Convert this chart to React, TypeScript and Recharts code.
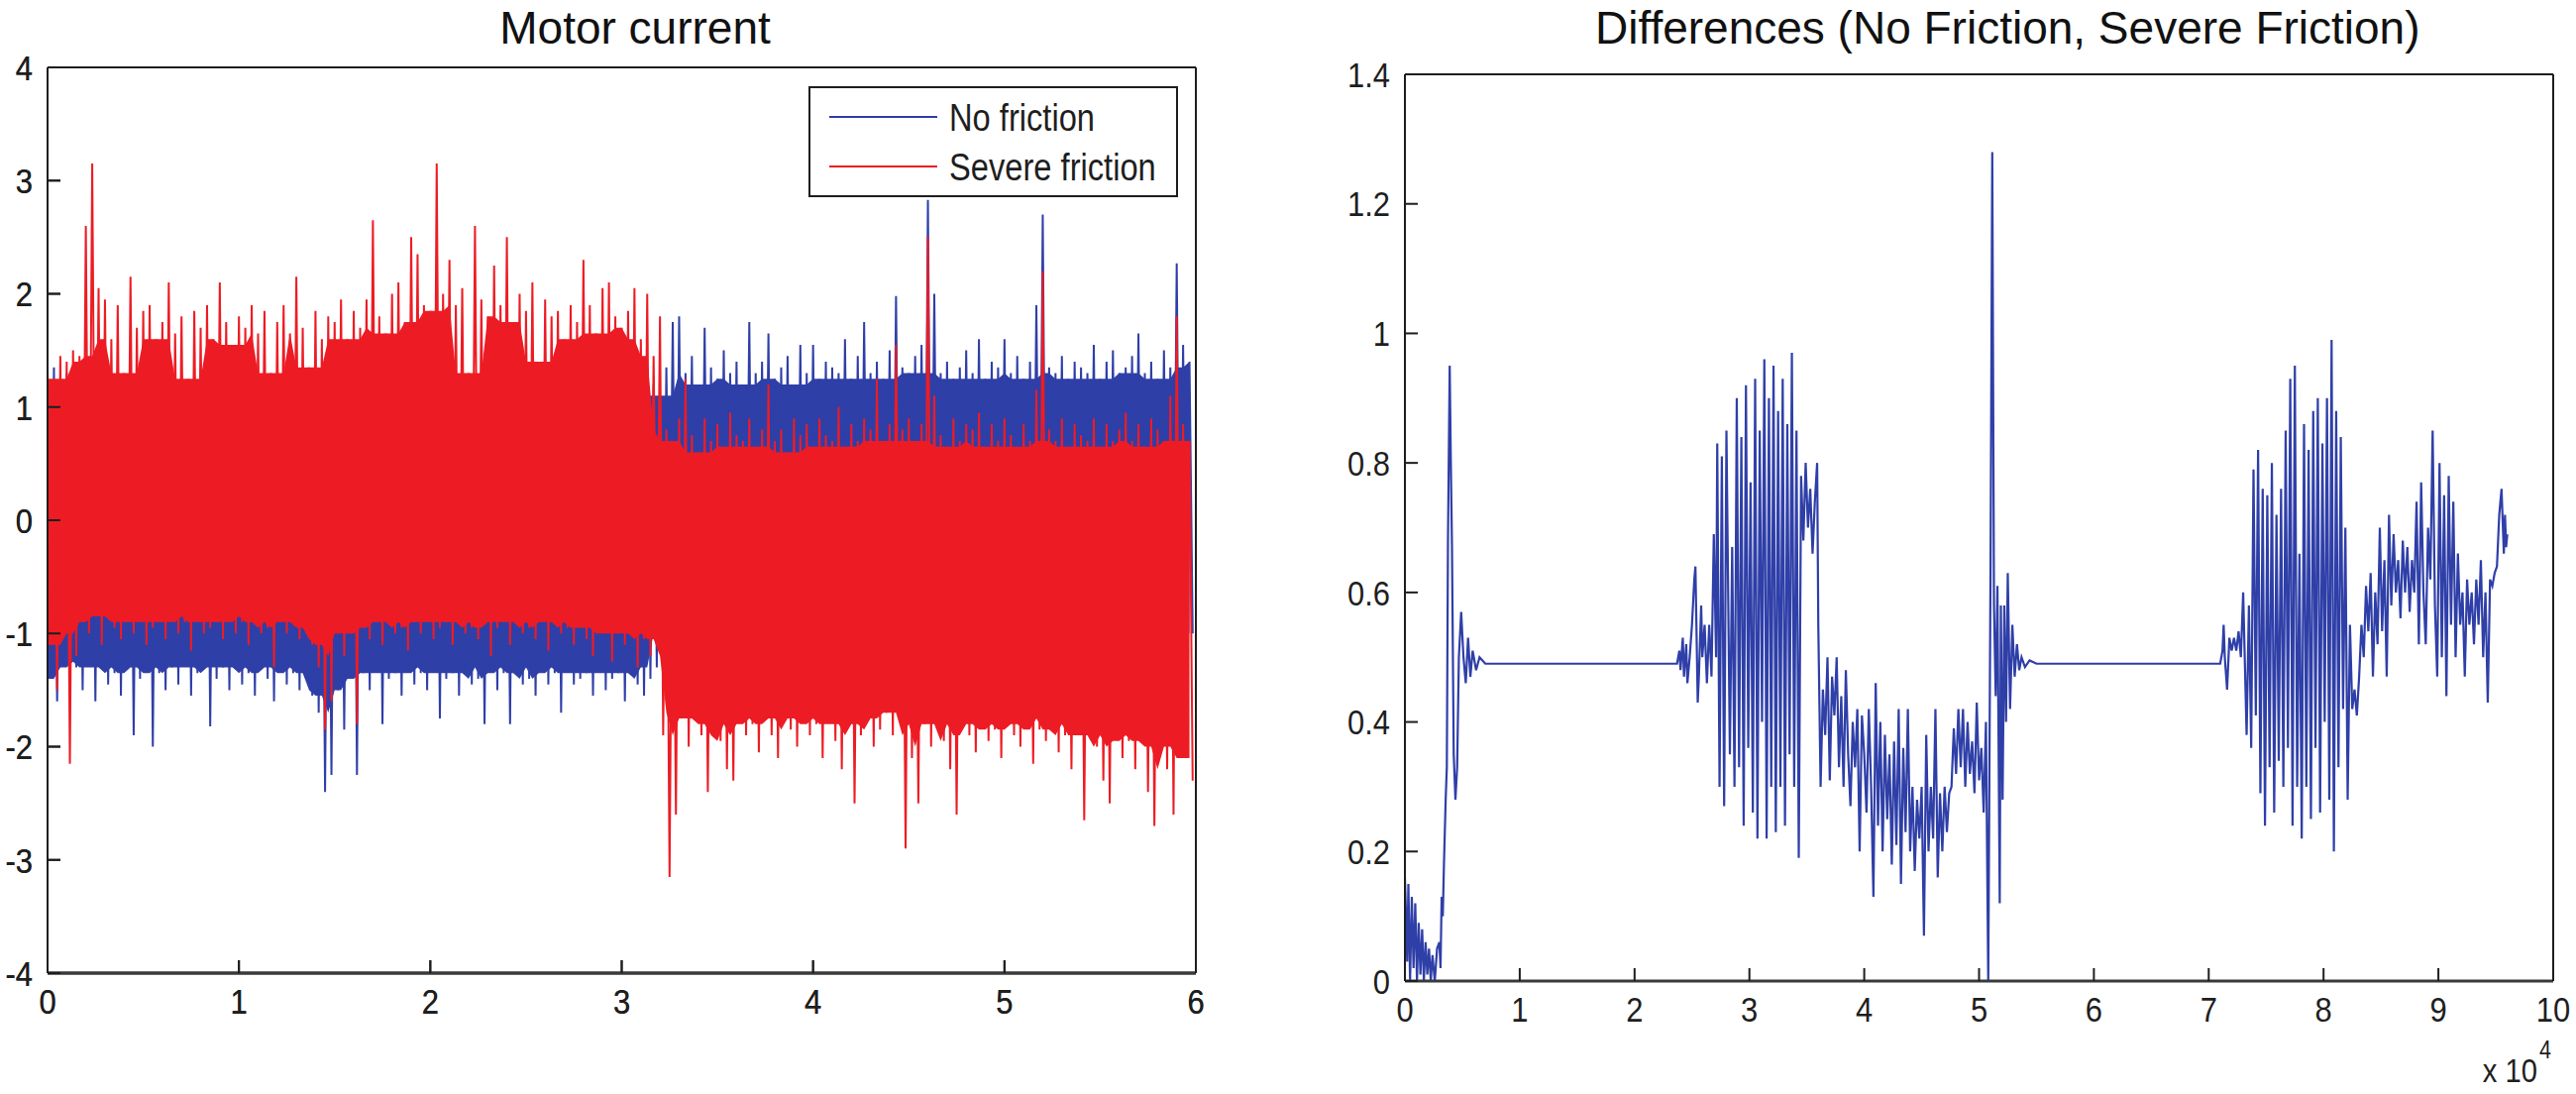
import { Area, ComposedChart, Line, XAxis, YAxis } from 'recharts'

const FONT = '"Liberation Sans", Arial, Helvetica, sans-serif'
const BLUE = '#2f3fa8'
const RED = '#ed1c24'
const INK = '#1e1e1e'
const TICK_FONT = 36
const SQUEEZE = 0.86
const TICK_LEN = 13

// left panel: samples per x unit, upper / lower swing of each oscillation
const SAMPLES_PER_UNIT = 30

const motorTicksX = [0, 1, 2, 3, 4, 5, 6]
const motorTicksY = [-4, -3, -2, -1, 0, 1, 2, 3, 4]
const diffTicksX = [0, 1, 2, 3, 4, 5, 6, 7, 8, 9, 10]
const diffTicksY = [0, 0.2, 0.4, 0.6, 0.8, 1, 1.2, 1.4]

const redUpper = [
	1.35, 1.25, 1.45, 1.4, 1.5, 1.45, 2.6, 3.15, 2.05, 1.95,
	1.6, 1.9, 1.3, 2.15, 1.7, 1.85, 1.9, 1.6, 1.75, 2.1,
	1.65, 1.8, 1.25, 1.85, 1.7, 1.9, 1.6, 2.1, 1.75, 1.55,
	1.8, 1.7, 1.9, 1.65, 1.85, 1.3, 1.75, 1.9, 1.65, 2.15,
	1.7, 1.35, 1.85, 1.6, 1.8, 1.75, 1.95, 1.6, 1.85, 1.7,
	1.95, 2.65, 1.8, 1.65, 2.0, 2.1, 1.75, 2.5, 2.35, 1.9,
	1.85, 3.15, 2.0, 2.3, 1.9, 2.05, 1.3, 2.6, 1.95, 1.8,
	2.25, 1.9, 2.5, 1.75, 2.0, 1.85, 2.1, 1.4, 1.95, 1.8,
	1.85, 1.6, 1.9, 1.75, 2.3, 1.9, 1.65, 2.05, 2.1, 1.8,
	1.7, 1.85, 2.05, 1.6, 2.0, 1.45, 1.8, 0.8, 0.7, 0.9,
	1.25, 0.75, 0.6, 0.9, 0.7, 0.85, 0.65, 0.95, 0.75, 0.7,
	0.9, 0.65, 0.8, 1.2, 0.7, 0.8, 0.6, 0.9, 0.75, 0.85,
	0.65, 0.9, 0.75, 0.7, 1.0, 0.65, 0.85, 0.7, 0.9, 0.8,
	1.25, 0.7, 0.85, 1.55, 0.8, 0.9, 0.7, 0.85, 2.5, 1.1,
	0.75, 0.65, 0.9, 0.7, 0.85, 0.8, 0.95, 0.65, 0.85, 0.7,
	0.9, 0.75, 0.65, 0.85, 0.7, 1.15, 2.2, 0.8, 0.7, 0.9,
	0.65, 0.85, 0.75, 0.7, 0.9, 0.65, 0.85, 0.7, 0.8, 0.95,
	0.7, 0.85, 0.65, 0.9, 0.8, 0.7, 1.1, 1.8, 0.85, 0.7,
]

const redLower = [
	-1.1, -1.5, -1.0, -2.15, -1.2, -0.9, -1.0, -0.8, -1.1, -0.85,
	-0.95, -1.05, -0.9, -1.0, -0.85, -1.1, -0.95, -0.9, -1.05, -0.85,
	-1.0, -0.9, -1.15, -0.85, -1.0, -0.95, -0.9, -1.05, -0.85, -1.0,
	-0.9, -1.1, -0.85, -1.0, -0.95, -1.3, -0.9, -1.0, -0.85, -1.05,
	-0.95, -1.1, -1.3, -1.85, -1.6, -1.0, -1.2, -1.0, -1.8, -0.95,
	-1.05, -0.9, -1.1, -0.85, -1.0, -0.95, -1.15, -0.9, -1.0, -0.85,
	-1.05, -0.95, -0.9, -1.1, -0.85, -1.0, -0.95, -1.05, -0.9, -1.2,
	-0.95, -0.85, -1.1, -0.9, -1.0, -0.95, -1.05, -0.9, -1.15, -0.85,
	-1.0, -0.95, -1.1, -0.9, -1.05, -1.2, -0.95, -1.0, -1.25, -1.0,
	-1.1, -0.95, -1.3, -1.05, -1.2, -1.0, -1.9, -3.15, -2.6, -1.7,
	-2.0, -1.75, -1.9, -2.4, -1.8, -1.95, -2.2, -2.3, -1.7, -1.9,
	-1.8, -2.05, -1.75, -1.9, -2.1, -1.7, -1.85, -2.0, -1.75, -1.9,
	-1.8, -2.1, -1.7, -1.95, -2.2, -1.8, -2.5, -1.9, -1.75, -2.0,
	-1.85, -1.7, -1.9, -0.85, -2.9, -2.1, -2.5, -1.8, -2.0, -1.75,
	-1.95, -2.2, -2.6, -1.8, -1.9, -2.05, -1.7, -1.95, -1.85, -2.1,
	-1.8, -1.9, -2.0, -1.75, -2.15, -1.85, -1.95, -1.7, -2.05, -1.9,
	-2.2, -1.8, -2.65, -1.9, -2.0, -2.3, -2.5, -1.85, -2.1, -1.95,
	-2.2, -1.9, -2.4, -2.7, -2.0, -2.2, -2.6, -1.9, -2.1, -2.3,
]

const blueUpper = [
	1.3, 1.35, 1.2, 1.3, 1.1, 1.25, 1.15, 1.3, 1.2, 1.1,
	1.15, 1.3, 1.05, 1.25, 1.2, 1.1, 1.3, 1.15, 1.25, 1.05,
	1.2, 1.3, 1.1, 1.25, 1.15, 1.3, 1.05, 1.2, 1.25, 1.1,
	1.3, 1.15, 1.2, 1.05, 1.25, 1.1, 1.3, 1.2, 1.15, 1.25,
	1.1, 1.2, 1.3, 1.05, 1.25, 1.15, 1.2, 1.1, 1.3, 1.2,
	1.15, 1.25, 1.1, 1.3, 1.2, 1.05, 1.25, 1.15, 1.2, 1.3,
	1.1, 1.25, 1.2, 1.15, 1.3, 1.05, 1.2, 1.25, 1.1, 1.2,
	1.3, 1.15, 1.25, 1.1, 1.2, 1.3, 1.05, 1.25, 1.15, 1.2,
	1.25, 1.1, 1.2, 1.3, 1.15, 1.25, 1.05, 1.2, 1.3, 1.1,
	1.2, 1.1, 1.25, 1.15, 1.3, 1.2, 1.1, 1.35, 1.75, 1.8,
	1.3, 1.45, 1.2, 1.7, 1.35, 1.25, 1.5, 1.3, 1.4, 1.2,
	1.75, 1.3, 1.4, 1.65, 1.25, 1.35, 1.45, 1.2, 1.55, 1.3,
	1.55, 1.25, 1.4, 1.35, 1.3, 1.6, 1.25, 1.45, 1.75, 1.3,
	1.4, 1.25, 1.5, 1.98, 1.35, 1.3, 1.45, 1.55, 2.83, 2.0,
	1.3, 1.4, 1.25, 1.35, 1.5, 1.3, 1.6, 1.25, 1.4, 1.35,
	1.6, 1.3, 1.45, 1.25, 1.4, 1.9, 2.7, 1.35, 1.3, 1.45,
	1.25, 1.4, 1.35, 1.3, 1.55, 1.25, 1.4, 1.5, 1.3, 1.35,
	1.45, 1.65, 1.3, 1.4, 1.25, 1.5, 1.35, 2.27, 1.55, 1.4,
]

const blueLower = [
	-1.4, -1.6, -1.2, -1.55, -1.3, -1.5, -1.25, -1.6, -1.3, -1.45,
	-1.35, -1.55, -1.3, -1.9, -1.4, -1.25, -2.0, -1.35, -1.5, -1.3,
	-1.45, -1.25, -1.55, -1.35, -1.3, -1.82, -1.4, -1.3, -1.5, -1.25,
	-1.45, -1.35, -1.55, -1.3, -1.4, -1.6, -1.3, -1.45, -1.35, -1.5,
	-1.3, -1.55, -1.7, -2.4, -2.25, -1.5, -1.85, -1.4, -2.25, -1.35,
	-1.5, -1.3, -1.8, -1.4, -1.35, -1.55, -1.3, -1.45, -1.35, -1.5,
	-1.3, -1.75, -1.4, -1.35, -1.55, -1.3, -1.45, -1.4, -1.8, -1.3,
	-1.5, -1.35, -1.8, -1.3, -1.45, -1.4, -1.55, -1.3, -1.45, -1.35,
	-1.7, -1.3, -1.45, -1.4, -1.35, -1.55, -1.3, -1.5, -1.4, -1.35,
	-1.6, -1.3, -1.45, -1.55, -1.4, -1.3, -1.0, -0.9, -1.05, -0.85,
	-0.95, -1.0, -0.9, -1.05, -0.85, -0.95, -1.0, -0.9, -1.1, -0.85,
	-1.0, -0.9, -0.95, -1.05, -0.85, -1.0, -0.9, -0.95, -1.1, -0.9,
	-0.85, -1.0, -0.95, -0.9, -1.05, -0.85, -1.0, -0.95, -0.9, -1.0,
	-0.95, -0.9, -1.0, -0.8, -1.05, -0.9, -0.95, -1.0, -0.85, -0.95,
	-1.0, -0.9, -1.05, -0.85, -0.95, -1.0, -0.9, -1.1, -0.85, -0.95,
	-0.9, -1.0, -0.95, -1.05, -0.85, -0.9, -1.0, -0.95, -0.9, -1.05,
	-0.85, -1.0, -0.95, -0.9, -1.05, -0.9, -1.0, -0.85, -0.95, -1.0,
	-0.9, -1.05, -0.95, -0.85, -1.0, -0.9, -0.95, -1.05, -0.9, -1.0,
]

// right panel: [time (x 10^4), difference]
const diffPoints: [number, number][] = [
	[0, 0.16], [0.02, 0.03], [0.03, 0.15], [0.045, 0], [0.06, 0.13], [0.075, 0.02],
	[0.09, 0.12], [0.105, 0], [0.12, 0.09], [0.135, 0.01], [0.15, 0.08], [0.165, 0],
	[0.18, 0.06], [0.195, 0.01], [0.21, 0.05], [0.225, 0], [0.24, 0.04], [0.26, 0],
	[0.28, 0.05], [0.3, 0.06], [0.31, 0.02], [0.32, 0.13], [0.33, 0.1], [0.34, 0.18],
	[0.355, 0.28], [0.365, 0.33], [0.375, 0.68], [0.39, 0.95], [0.4, 0.8], [0.41, 0.67],
	[0.425, 0.35], [0.44, 0.28], [0.455, 0.33], [0.47, 0.5], [0.49, 0.57], [0.51, 0.5],
	[0.53, 0.46], [0.55, 0.53], [0.57, 0.47], [0.59, 0.51], [0.62, 0.48], [0.65, 0.5],
	[0.7, 0.49],
	[2.37, 0.49], [2.39, 0.51], [2.4, 0.48], [2.42, 0.53], [2.43, 0.47], [2.45, 0.52],
	[2.46, 0.46], [2.48, 0.5], [2.5, 0.55], [2.52, 0.62], [2.53, 0.64], [2.55, 0.43],
	[2.56, 0.47], [2.58, 0.58], [2.59, 0.5], [2.61, 0.55], [2.63, 0.46], [2.65, 0.55],
	[2.67, 0.47], [2.69, 0.69], [2.71, 0.5], [2.72, 0.83], [2.74, 0.3], [2.76, 0.81],
	[2.78, 0.27], [2.8, 0.85], [2.83, 0.35], [2.85, 0.67], [2.87, 0.3], [2.89, 0.9],
	[2.91, 0.33], [2.93, 0.84], [2.95, 0.24], [2.97, 0.92], [2.99, 0.36], [3.01, 0.77],
	[3.03, 0.26], [3.05, 0.93], [3.07, 0.22], [3.09, 0.85], [3.11, 0.4], [3.13, 0.96],
	[3.15, 0.22], [3.17, 0.9], [3.19, 0.3], [3.21, 0.95], [3.23, 0.23], [3.25, 0.88],
	[3.27, 0.3], [3.29, 0.93], [3.31, 0.24], [3.33, 0.86], [3.35, 0.35], [3.37, 0.97],
	[3.39, 0.3], [3.41, 0.85], [3.43, 0.19], [3.45, 0.78], [3.47, 0.68], [3.49, 0.8],
	[3.51, 0.7], [3.53, 0.76], [3.55, 0.66], [3.57, 0.74], [3.59, 0.8], [3.6, 0.55],
	[3.62, 0.3], [3.64, 0.45], [3.66, 0.38], [3.68, 0.5], [3.7, 0.31], [3.72, 0.47],
	[3.74, 0.41], [3.76, 0.5], [3.78, 0.33], [3.8, 0.44], [3.82, 0.3], [3.84, 0.48],
	[3.86, 0.35], [3.88, 0.27], [3.9, 0.4], [3.92, 0.33], [3.94, 0.42], [3.96, 0.2],
	[3.98, 0.41], [4.0, 0.35], [4.02, 0.26], [4.04, 0.42], [4.06, 0.3], [4.08, 0.13],
	[4.1, 0.46], [4.12, 0.24], [4.14, 0.4], [4.16, 0.2], [4.18, 0.38], [4.2, 0.25],
	[4.22, 0.35], [4.24, 0.18], [4.26, 0.37], [4.28, 0.21], [4.3, 0.42], [4.32, 0.15],
	[4.34, 0.36], [4.36, 0.23], [4.38, 0.42], [4.4, 0.2], [4.42, 0.3], [4.44, 0.17],
	[4.46, 0.28], [4.48, 0.22], [4.5, 0.3], [4.52, 0.07], [4.54, 0.38], [4.56, 0.2],
	[4.58, 0.3], [4.6, 0.22], [4.62, 0.42], [4.64, 0.16], [4.66, 0.29], [4.68, 0.2],
	[4.7, 0.3], [4.72, 0.23], [4.74, 0.29], [4.76, 0.3], [4.78, 0.39], [4.8, 0.32],
	[4.82, 0.42], [4.84, 0.33], [4.86, 0.42], [4.88, 0.3], [4.9, 0.4], [4.92, 0.32],
	[4.94, 0.37], [4.96, 0.29], [4.98, 0.43], [5.0, 0.31], [5.02, 0.36], [5.04, 0.26],
	[5.06, 0.4], [5.08, 0], [5.1, 0.64], [5.115, 1.28], [5.13, 0.58], [5.145, 0.44],
	[5.16, 0.61], [5.18, 0.12], [5.19, 0.58], [5.205, 0.28], [5.22, 0.58], [5.235, 0.4],
	[5.25, 0.63], [5.27, 0.42], [5.29, 0.55], [5.31, 0.47], [5.33, 0.52], [5.35, 0.48],
	[5.37, 0.5], [5.4, 0.485], [5.44, 0.495], [5.5, 0.49],
	[7.1, 0.49], [7.12, 0.51], [7.13, 0.55], [7.14, 0.5], [7.16, 0.45], [7.18, 0.53],
	[7.2, 0.51], [7.22, 0.53], [7.24, 0.51], [7.26, 0.54], [7.28, 0.5], [7.3, 0.6],
	[7.33, 0.38], [7.35, 0.58], [7.37, 0.36], [7.39, 0.79], [7.41, 0.41], [7.43, 0.82],
	[7.45, 0.29], [7.47, 0.76], [7.49, 0.24], [7.51, 0.75], [7.53, 0.33], [7.55, 0.8],
	[7.57, 0.26], [7.59, 0.72], [7.61, 0.34], [7.63, 0.76], [7.65, 0.3], [7.67, 0.85],
	[7.69, 0.36], [7.71, 0.93], [7.73, 0.24], [7.75, 0.95], [7.77, 0.3], [7.79, 0.66],
	[7.81, 0.22], [7.83, 0.86], [7.85, 0.3], [7.87, 0.82], [7.89, 0.25], [7.91, 0.88],
	[7.93, 0.36], [7.95, 0.9], [7.97, 0.26], [7.99, 0.83], [8.01, 0.4], [8.03, 0.9],
	[8.05, 0.28], [8.07, 0.99], [8.09, 0.2], [8.11, 0.88], [8.13, 0.33], [8.15, 0.84],
	[8.17, 0.42], [8.19, 0.7], [8.21, 0.28], [8.23, 0.55], [8.25, 0.42], [8.27, 0.45],
	[8.29, 0.41], [8.31, 0.47], [8.33, 0.55], [8.35, 0.5], [8.37, 0.61], [8.39, 0.54],
	[8.41, 0.63], [8.43, 0.47], [8.45, 0.6], [8.47, 0.52], [8.49, 0.7], [8.51, 0.54],
	[8.53, 0.65], [8.55, 0.47], [8.57, 0.72], [8.59, 0.58], [8.61, 0.69], [8.63, 0.6],
	[8.65, 0.65], [8.67, 0.56], [8.69, 0.68], [8.71, 0.6], [8.73, 0.67], [8.75, 0.57],
	[8.77, 0.65], [8.79, 0.6], [8.81, 0.74], [8.83, 0.52], [8.85, 0.77], [8.87, 0.6],
	[8.89, 0.52], [8.91, 0.7], [8.93, 0.62], [8.95, 0.85], [8.97, 0.58], [8.99, 0.47],
	[9.01, 0.8], [9.03, 0.5], [9.05, 0.75], [9.07, 0.44], [9.09, 0.78], [9.11, 0.55],
	[9.13, 0.74], [9.15, 0.5], [9.17, 0.66], [9.19, 0.55], [9.21, 0.6], [9.23, 0.47],
	[9.25, 0.62], [9.27, 0.55], [9.29, 0.6], [9.31, 0.52], [9.33, 0.62], [9.35, 0.55],
	[9.37, 0.65], [9.39, 0.5], [9.41, 0.6], [9.43, 0.43], [9.45, 0.62], [9.47, 0.61],
	[9.49, 0.63], [9.51, 0.64], [9.53, 0.72], [9.55, 0.76], [9.57, 0.66], [9.58, 0.72],
	[9.59, 0.67], [9.6, 0.69],
]

// zig-zag: every sample swings to its upper value, then to its lower one
const toSeries = (upper: number[], lower: number[]) =>
	upper.flatMap((u, i) => [
		{ t: i / SAMPLES_PER_UNIT, v: u },
		{ t: (i + 0.5) / SAMPLES_PER_UNIT, v: lower[i] },
	])

// how far the 5 nearest swings all reach: where the band is solid
const innerTop = (values: number[], i: number) =>
	Math.min(...values.slice(Math.max(0, i - 2), i + 3))

// bottom edge ignores one odd swing so a single short one leaves only a notch
const innerBottom = (values: number[], i: number) => {
	const win = values.slice(Math.max(0, i - 2), i + 3).sort((a, b) => a - b)
	return win[win.length - 2]
}

const toCore = (upper: number[], lower: number[]) =>
	upper.map((_, i) => ({
		t: i / SAMPLES_PER_UNIT,
		range: [innerBottom(lower, i), innerTop(upper, i)],
	}))

const blueSeries = toSeries(blueUpper, blueLower)
const redSeries = toSeries(redUpper, redLower)
const blueCore = toCore(blueUpper, blueLower)
const redCore = toCore(redUpper, redLower)
const diffSeries = diffPoints.map(([t, v]) => ({ t, v }))

const XTick = (props: any) => (
	<text
		transform={`translate(${props.x},${props.y}) scale(${SQUEEZE},1)`}
		textAnchor='middle'
		dy='0.71em'
		fontSize={TICK_FONT}
		fontFamily={FONT}
		fill={INK}
	>
		{String(props.payload.value)}
	</text>
)

const YTick = (props: any) => (
	<text
		transform={`translate(${props.x},${props.y}) scale(${SQUEEZE},1)`}
		textAnchor='end'
		dy='0.355em'
		fontSize={TICK_FONT}
		fontFamily={FONT}
		fill={INK}
	>
		{String(props.payload.value)}
	</text>
)

const frame = {
	axisLine: { stroke: INK, strokeWidth: 2 },
	tickLine: { stroke: INK, strokeWidth: 2 },
	tickSize: -TICK_LEN,
	tickMargin: TICK_LEN + 15,
	interval: 0 as const,
	allowDataOverflow: true,
}

// box with inward ticks on all four sides, labels only bottom and left
const Frame = ({ ticksX, ticksY, domainX, domainY }: {
	ticksX: number[]; ticksY: number[]; domainX: [number, number]; domainY: [number, number]
}) => [
	<XAxis key='b' xAxisId='b' dataKey='t' type='number' domain={domainX} ticks={ticksX} height={1} tick={<XTick />} {...frame} axisLine={{ stroke: '#3a3a3a', strokeWidth: 3 }} />,
	<XAxis key='t' xAxisId='top' orientation='top' type='number' domain={domainX} ticks={ticksX} height={1} tick={false} {...frame} />,
	<YAxis key='l' yAxisId='l' type='number' domain={domainY} ticks={ticksY} width={1} tick={<YTick />} {...frame} />,
	<YAxis key='r' yAxisId='right' orientation='right' type='number' domain={domainY} ticks={ticksY} width={1} tick={false} {...frame} />,
]

const motorFrame = { ticksX: motorTicksX, ticksY: motorTicksY, domainX: [0, 6] as [number, number], domainY: [-4, 4] as [number, number] }
const motorMargin = { top: 67, right: 92, bottom: 121, left: 47 }

// one layer per signal so the red one is painted fully over the blue one
const MotorLayer = ({ core, series, color }: { core: object[]; series: object[]; color: string }) => (
	<div style={{ position: 'absolute', left: 0, top: 0 }}>
		<ComposedChart width={1300} height={1104} margin={motorMargin}>
			{Frame(motorFrame)}
			<Area xAxisId='b' yAxisId='l' data={core} dataKey='range' type='linear' stroke='none' fill={color} fillOpacity={1} isAnimationActive={false} />
			<Line xAxisId='b' yAxisId='l' data={series} dataKey='v' type='linear' stroke={color} strokeWidth={2} dot={false} isAnimationActive={false} />
		</ComposedChart>
	</div>
)

export default function App() {
	return (
		<div style={{ position: 'absolute', left: 0, top: 0, width: 2600, height: 1104, background: '#fff', overflow: 'hidden' }}>
			<MotorLayer core={blueCore} series={blueSeries} color={BLUE} />
			<MotorLayer core={redCore} series={redSeries} color={RED} />
			<div style={{ position: 'absolute', left: 1300, top: 0 }}>
				<ComposedChart width={1300} height={1104} margin={{ top: 74, right: 22, bottom: 113, left: 117 }}>
					{Frame({ ticksX: diffTicksX, ticksY: diffTicksY, domainX: [0, 10], domainY: [0, 1.4] })}
					<Line xAxisId='b' yAxisId='l' data={diffSeries} dataKey='v' type='linear' stroke={BLUE} strokeWidth={2.2} dot={false} isAnimationActive={false} />
				</ComposedChart>
			</div>
			<svg width={2600} height={1104} style={{ position: 'absolute', left: 0, top: 0, pointerEvents: 'none' }}>
				<text x={641} y={44} textAnchor='middle' fontSize={46} fontFamily={FONT} fill='#111'>Motor current</text>
				<text x={1610} y={44} fontSize={46} fontFamily={FONT} fill='#111'>Differences (No Friction, Severe Friction)</text>
				<rect x={817} y={88} width={371} height={110} fill='#fff' stroke={INK} strokeWidth={2} />
				<line x1={837} x2={946} y1={118} y2={118} stroke={BLUE} strokeWidth={2} />
				<line x1={837} x2={946} y1={168} y2={168} stroke={RED} strokeWidth={2} />
				<text transform={`translate(958,132) scale(${SQUEEZE},1)`} fontSize={38} fontFamily={FONT} fill={INK}>No friction</text>
				<text transform={`translate(958,182) scale(${SQUEEZE},1)`} fontSize={38} fontFamily={FONT} fill={INK}>Severe friction</text>
				<text transform={`translate(2561,1092) scale(${SQUEEZE},1)`} textAnchor='end' fontSize={34} fontFamily={FONT} fill={INK}>x 10</text>
				<text transform={`translate(2563,1068) scale(${SQUEEZE},1)`} fontSize={25} fontFamily={FONT} fill={INK}>4</text>
			</svg>
		</div>
	)
}
